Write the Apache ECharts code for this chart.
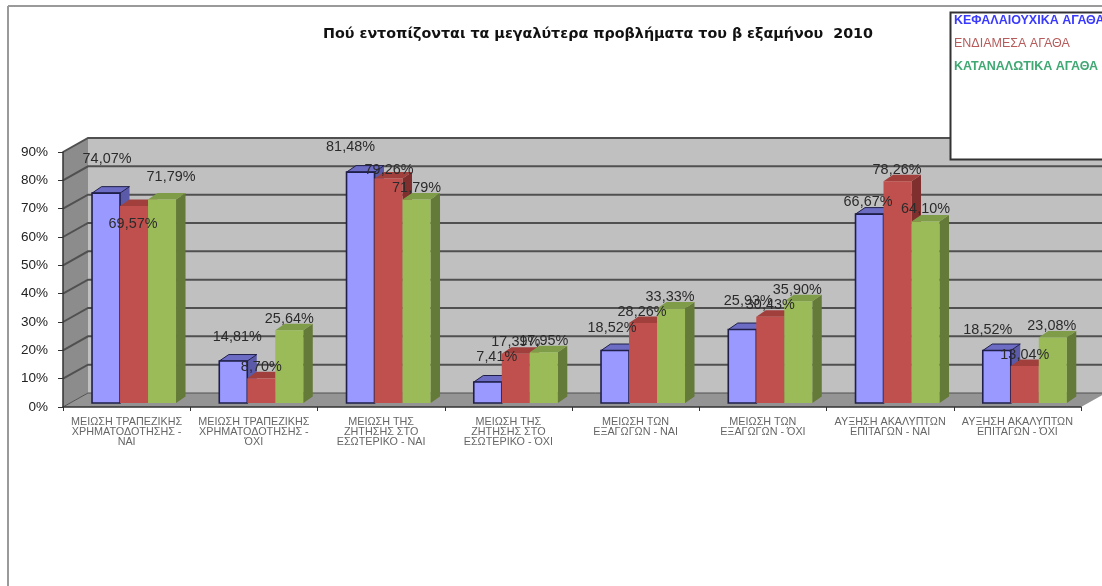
<!DOCTYPE html>
<html>
<head>
<meta charset="utf-8">
<style>html,body{margin:0;padding:0;background:#fff;overflow:hidden}#c{width:1102px;height:586px;filter:blur(0.5px)}</style>
<script src="https://cdn.jsdelivr.net/npm/echarts@6/dist/echarts.min.js"></script>
</head>
<body>
<div id="c"></div>
<script>
const titleText = 'Πού εντοπίζονται τα μεγαλύτερα προβλήματα του β εξαμήνου  2010';
const categories = [
  'ΜΕΙΩΣΗ ΤΡΑΠΕΖΙΚΗΣ\nΧΡΗΜΑΤΟΔΟΤΗΣΗΣ -\nΝΑΙ',
  'ΜΕΙΩΣΗ ΤΡΑΠΕΖΙΚΗΣ\nΧΡΗΜΑΤΟΔΟΤΗΣΗΣ -\nΌΧΙ',
  'ΜΕΙΩΣΗ ΤΗΣ\nΖΗΤΗΣΗΣ ΣΤΟ\nΕΣΩΤΕΡΙΚΟ - ΝΑΙ',
  'ΜΕΙΩΣΗ ΤΗΣ\nΖΗΤΗΣΗΣ ΣΤΟ\nΕΣΩΤΕΡΙΚΟ - ΌΧΙ',
  'ΜΕΙΩΣΗ ΤΩΝ\nΕΞΑΓΩΓΩΝ - ΝΑΙ',
  'ΜΕΙΩΣΗ ΤΩΝ\nΕΞΑΓΩΓΩΝ - ΌΧΙ',
  'ΑΥΞΗΣΗ ΑΚΑΛΥΠΤΩΝ\nΕΠΙΤΑΓΩΝ - ΝΑΙ',
  'ΑΥΞΗΣΗ ΑΚΑΛΥΠΤΩΝ\nΕΠΙΤΑΓΩΝ - ΌΧΙ'
];
const capitalGoods = [74.07, 14.81, 81.48, 7.41, 18.52, 25.93, 66.67, 18.52];
const intermediateGoods = [69.57, 8.70, 79.26, 17.39, 28.26, 30.43, 78.26, 13.04];
const consumerGoods = [71.79, 25.64, 71.79, 17.95, 33.33, 35.90, 64.10, 23.08];
const yTicks = [0, 10, 20, 30, 40, 50, 60, 70, 80, 90];

// Hand-placed data label nudges of the original, relative to each bar's top centre
const capitalLabelDx = [1, 4, -10, 9, -3, 6, -1.5, -9];
const capitalLabelDy = [-34, -24, -25, -25, -22.5, -28.5, -12, -20.5];
const intermediateLabelDx = [-1, 0, 0.5, 0, -1, 0, -0.5, 0];
const intermediateLabelDy = [18, -11, -8.5, -12, -11, -12, -11, -11];
const consumerLabelDx = [9, 0, 0, 0, -1, -1, 0, -1];
const consumerLabelDy = [-23, -11, -12, -11, -12, -11, -12, -12];

const WALL_DX = 25, WALL_DY = 14;       // depth of the chart box
const BAR_DX = 9.5, BAR_DY = 6.5;       // depth of a bar
const BAR_W = 28, BAR_LIFT = 4;         // bar width, bars stand a little back on the floor
const FONT = '"Liberation Sans", Arial, sans-serif';

function poly(points, fill, extra) {
  return Object.assign({ type: 'polygon', shape: { points }, style: { fill } }, extra || {});
}
function renderWalls(params) {
  const g = params.coordSys;
  const l = g.x, r = g.x + g.width, t = g.y, b = g.y + g.height;
  return { type: 'group', children: [
    poly([[l + WALL_DX, t - WALL_DY], [r + WALL_DX, t - WALL_DY], [r + WALL_DX, b - WALL_DY], [l + WALL_DX, b - WALL_DY]], '#c0c0c0'),
    poly([[l, t], [l + WALL_DX, t - WALL_DY], [l + WALL_DX, b - WALL_DY], [l, b]], '#8c8c8c'),
    poly([[l, b], [l + WALL_DX, b - WALL_DY], [r + WALL_DX, b - WALL_DY], [r, b]], '#949494')
  ]};
}
function renderGrid(params, api) {
  const g = params.coordSys;
  const y = api.coord([0, api.value(1)])[1];
  const l = g.x, r = g.x + g.width;
  return { type: 'polyline',
    shape: { points: [[l, y], [l + WALL_DX, y - WALL_DY], [r + WALL_DX, y - WALL_DY]] },
    style: { fill: 'none', stroke: '#505050', lineWidth: api.value(1) === 0 ? 1 : 2 } };
}
function barRenderer(offset, front, top, side, stroke) {
  return function (params, api) {
    const p = api.coord([api.value(0), api.value(1)]);
    const base = api.coord([api.value(0), 0]);
    const x0 = p[0] + offset - BAR_W / 2, x1 = x0 + BAR_W;
    const yT = p[1] - BAR_LIFT, yB = base[1] - BAR_LIFT;
    const edge = stroke ? { stroke, lineWidth: 1.6 } : {};
    return { type: 'group', children: [
      poly([[x1, yT], [x1 + BAR_DX, yT - BAR_DY], [x1 + BAR_DX, yB - BAR_DY], [x1, yB]], side),
      { type: 'polygon', shape: { points: [[x0, yT], [x0 + BAR_DX, yT - BAR_DY], [x1 + BAR_DX, yT - BAR_DY], [x1, yT]] }, style: Object.assign({ fill: top }, stroke ? { stroke, lineWidth: 1 } : {}) },
      { type: 'rect', shape: { x: x0, y: yT, width: BAR_W, height: yB - yT }, style: Object.assign({ fill: front }, edge) }
    ]};
  };
}
function labelRenderer(offset) {
  return function (params, api) {
    const p = api.coord([api.value(0), api.value(1)]);
    const text = api.value(1).toFixed(2).replace('.', ',') + '%';
    return { type: 'text', x: p[0] + offset + api.value(2), y: p[1] - BAR_LIFT + api.value(3),
      style: { text, fill: '#2b2b2b', font: '14.4px ' + FONT, textAlign: 'center', textVerticalAlign: 'middle' } };
  };
}
const xy = v => v.map((y, i) => [i, y]);
const lab = (v, dx, dy) => v.map((y, i) => [i, y, dx[i], dy[i]]);
const names = ['ΚΕΦΑΛΑΙΟΥΧΙΚΑ ΑΓΑΘΑ', 'ΕΝΔΙΑΜΕΣΑ ΑΓΑΘΑ', 'ΚΑΤΑΝΑΛΩΤΙΚΑ ΑΓΑΘΑ'];
const BAR_OFFSETS = [-20.6, 7.4, 35.4];
const enc = { x: 0, y: 1 };

const chart = echarts.init(document.getElementById('c'), null, { renderer: 'canvas' });
chart.setOption({
  animation: false,
  backgroundColor: '#ffffff',
  title: { text: titleText, left: 593, top: 20, textAlign: 'center',
    textStyle: { fontFamily: '"DejaVu Sans", sans-serif', fontSize: 14.3, fontWeight: 'bold', color: '#111', lineHeight: 18 } },
  legend: { orient: 'vertical', left: 954, top: 14, padding: 0, itemWidth: 0, itemHeight: 13, itemGap: 10, icon: 'none',
    selectedMode: false, z: 6,
    data: [
      { name: names[0], textStyle: { color: '#3a3aff', fontWeight: 'bold' } },
      { name: names[1], textStyle: { color: '#b65a5a' } },
      { name: names[2], textStyle: { color: '#3fa873', fontWeight: 'bold' } }
    ],
    textStyle: { fontFamily: FONT, fontSize: 12.5, lineHeight: 13, padding: [0, 0, 0, -5] } },
  grid: { left: 63, right: 21, top: 152, bottom: 179, containLabel: false },
  xAxis: { type: 'category', data: categories, z: 5,
    axisLine: { lineStyle: { color: '#333', width: 1.5 } },
    axisTick: { show: true, length: 4, lineStyle: { color: '#333' } },
    axisLabel: { interval: 0, margin: 10, fontFamily: FONT, fontSize: 10.8, lineHeight: 10, color: '#666' } },
  yAxis: { type: 'value', min: 0, max: 90, interval: 10, z: 5,
    axisLine: { show: true, lineStyle: { color: '#333', width: 1.5 } },
    axisTick: { show: true, length: 5, lineStyle: { color: '#333' } },
    splitLine: { show: false },
    axisLabel: { formatter: '{value}%', margin: 15, fontFamily: FONT, fontSize: 13.5, color: '#222' } },
  graphic: [
    { type: 'rect', z: 4, shape: { x: 950.5, y: 12.5, width: 170, height: 147 }, style: { fill: '#fff', stroke: '#333', lineWidth: 2 } },
    { type: 'line', z: 4, shape: { x1: 8, y1: 6, x2: 1102, y2: 6 }, style: { stroke: '#9a9a9a', lineWidth: 2 } },
    { type: 'line', z: 4, shape: { x1: 8, y1: 6, x2: 8, y2: 586 }, style: { stroke: '#9a9a9a', lineWidth: 2 } }
  ],
  series: [
    { type: 'custom', name: 'walls', z: 1, data: [[0, 0]], encode: enc, renderItem: renderWalls, silent: true },
    { type: 'custom', name: 'grid', z: 1, data: xy(yTicks).map(d => [0, d[1]]), encode: enc, renderItem: renderGrid, silent: true },
    { type: 'custom', name: names[0], z: 2, data: xy(capitalGoods), encode: enc, renderItem: barRenderer(BAR_OFFSETS[0], '#9999ff', '#6c6cc4', '#5a5aa8', '#1f1f4a') },
    { type: 'custom', name: names[1], z: 2, data: xy(intermediateGoods), encode: enc, renderItem: barRenderer(BAR_OFFSETS[1], '#c0504d', '#a03f3c', '#7f2f2d') },
    { type: 'custom', name: names[2], z: 2, data: xy(consumerGoods), encode: enc, renderItem: barRenderer(BAR_OFFSETS[2], '#9bbb59', '#7f9c48', '#647a38') },
    { type: 'custom', name: 'l0', z: 3, data: lab(capitalGoods, capitalLabelDx, capitalLabelDy), encode: enc, renderItem: labelRenderer(BAR_OFFSETS[0]), silent: true },
    { type: 'custom', name: 'l1', z: 3, data: lab(intermediateGoods, intermediateLabelDx, intermediateLabelDy), encode: enc, renderItem: labelRenderer(BAR_OFFSETS[1]), silent: true },
    { type: 'custom', name: 'l2', z: 3, data: lab(consumerGoods, consumerLabelDx, consumerLabelDy), encode: enc, renderItem: labelRenderer(BAR_OFFSETS[2]), silent: true }
  ]
});
</script>
</body>
</html>
